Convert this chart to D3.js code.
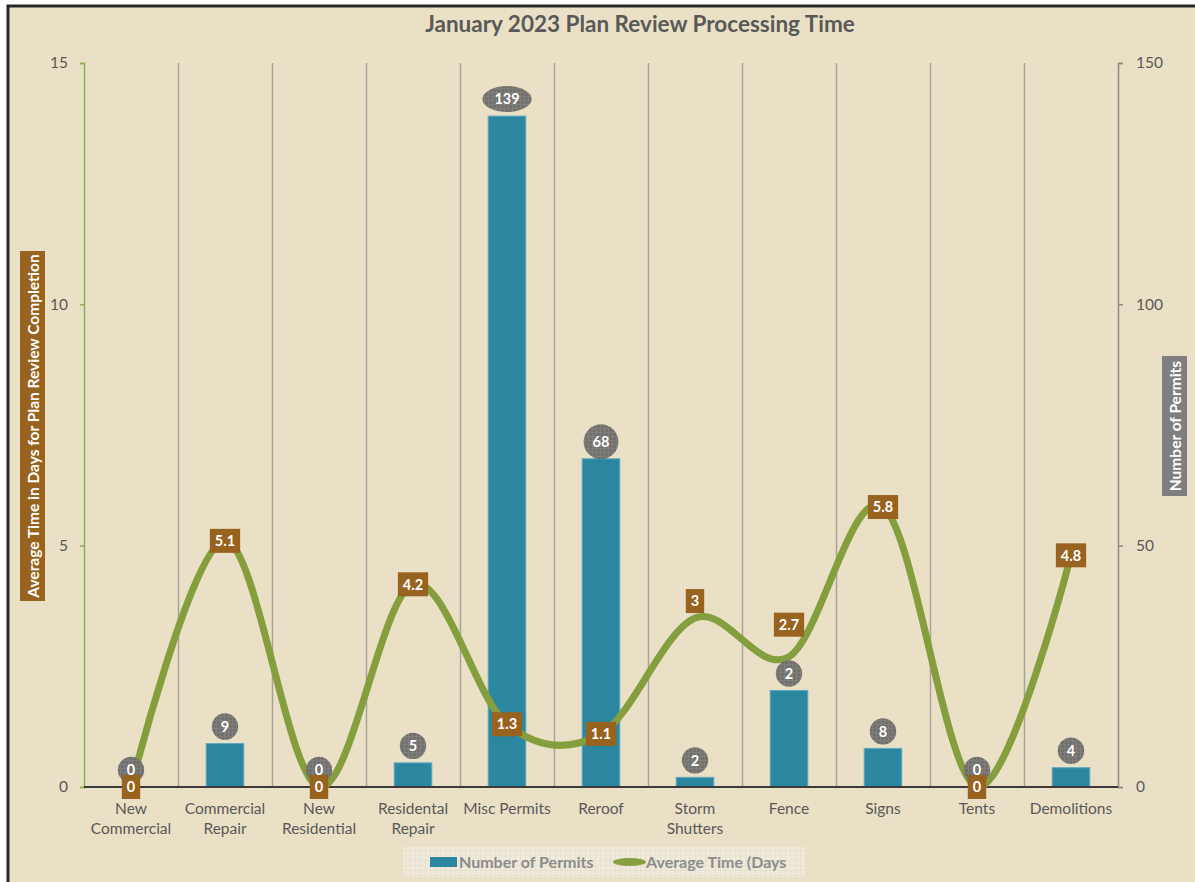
<!DOCTYPE html>
<html>
<head>
<meta charset="utf-8">
<script src="https://cdn.jsdelivr.net/npm/d3@7"></script>
<style>
  html, body { margin: 0; padding: 0; background: #ffffff; }
  svg { display: block; font-family: Lato, "Open Sans", "DejaVu Sans", sans-serif; }
</style>
</head>
<body>
<svg id="chart" width="1195" height="882"></svg>
<script>
// ---- Data ----
const categories = ["New\nCommercial", "Commercial\nRepair", "New\nResidential", "Residental\nRepair",
  "Misc Permits", "Reroof", "Storm\nShutters", "Fence", "Signs", "Tents", "Demolitions"];
const permits = [0, 9, 0, 5, 139, 68, 2, 20, 8, 0, 4];
const permitLabels = ["0", "9", "0", "5", "139", "68", "2", "2", "8", "0", "4"];
const avgDays = [0, 5.1, 0, 4.2, 1.3, 1.1, 3.5, 2.7, 5.8, 0, 4.8];
const avgDaysLabels = ["0", "5.1", "0", "4.2", "1.3", "1.1", "3", "2.7", "5.8", "0", "4.8"];
const leftTicks = [0, 5, 10, 15];
const rightTicks = [0, 50, 100, 150];
const titleText = "January 2023 Plan Review Processing Time";
const leftTitle = "Average Time in Days for Plan Review Completion";
const rightTitle = "Number of Permits";
const legendItems = ["Number of Permits", "Average Time (Days"];

// label vertical nudges (style only)
const avgLabelDy = [0, 0, 0, 0, 0, 0, -17, -32, 0, 0, 0];

// ---- Layout ----
const W = 1195, H = 882;
const plot = { left: 84, right: 1118, top: 63, bottom: 787 };
const bg = "#EAE0C5";
const textGray = "#595959";
const barColor = "#2B87A0";
const lineColor = "#86A03F";
const brown = "#98621F";

const svg = d3.select("#chart");
const defs = svg.append("defs");

// patterns
const pCircle = defs.append("pattern").attr("id", "pCircle").attr("width", 4).attr("height", 4)
  .attr("patternUnits", "userSpaceOnUse");
pCircle.append("rect").attr("width", 4).attr("height", 4).attr("fill", "#6C6B69");
pCircle.append("rect").attr("width", 1).attr("height", 4).attr("fill", "#7A7976");
pCircle.append("rect").attr("width", 4).attr("height", 1).attr("fill", "#7A7976");

const pLegend = defs.append("pattern").attr("id", "pLegend").attr("width", 5).attr("height", 5)
  .attr("patternUnits", "userSpaceOnUse");
pLegend.append("rect").attr("width", 5).attr("height", 5).attr("fill", "#EFEADB");
pLegend.append("rect").attr("width", 1).attr("height", 5).attr("fill", "#E6E0CD");
pLegend.append("rect").attr("width", 5).attr("height", 1).attr("fill", "#E6E0CD");

// background
svg.append("rect").attr("x", 0).attr("y", 0).attr("width", W).attr("height", H).attr("fill", "#ffffff");
svg.append("rect").attr("x", 8).attr("y", 6).attr("width", W + 20).attr("height", H + 20)
  .attr("fill", bg).attr("stroke", "#262626").attr("stroke-width", 3);

// scales
const x = d3.scaleBand().domain(categories).range([plot.left, plot.right]).padding(0);
const yL = d3.scaleLinear().domain([0, 15]).range([plot.bottom, plot.top]);
const yR = d3.scaleLinear().domain([0, 150]).range([plot.bottom, plot.top]);
const bw = x.bandwidth();
const cx = c => x(c) + bw / 2;

// vertical gridlines at category boundaries
svg.append("g").selectAll("line").data(categories.slice(1)).join("line")
  .attr("x1", d => Math.round(x(d)) + 0.5).attr("x2", d => Math.round(x(d)) + 0.5)
  .attr("y1", plot.top).attr("y2", plot.bottom)
  .attr("stroke", "#A7A39A").attr("stroke-width", 1.5);

// left axis
const gL = svg.append("g").attr("transform", `translate(${plot.left},0)`)
  .call(d3.axisLeft(yL).tickValues(leftTicks).tickSize(4).tickPadding(12).tickFormat(d3.format("d")));
gL.select(".domain").attr("stroke", "#8FAD55").attr("stroke-width", 1.5);
gL.selectAll(".tick line").attr("stroke", "#8FAD55").attr("stroke-width", 1.5);
gL.selectAll(".tick text").attr("fill", textGray).attr("font-size", 15.5).attr("font-family", "Lato, sans-serif");

// right axis
const gR = svg.append("g").attr("transform", `translate(${plot.right},0)`)
  .call(d3.axisRight(yR).tickValues(rightTicks).tickSize(5).tickPadding(13).tickFormat(d3.format("d")));
gR.select(".domain").attr("stroke", "#8C8A85").attr("stroke-width", 1.5);
gR.selectAll(".tick line").attr("stroke", "#8C8A85").attr("stroke-width", 1.5);
gR.selectAll(".tick text").attr("fill", textGray).attr("font-size", 15.5).attr("font-family", "Lato, sans-serif");

// bars
svg.append("g").selectAll("rect").data(categories).join("rect")
  .attr("x", (c) => cx(c) - bw * 0.2)
  .attr("width", bw * 0.4)
  .attr("y", (c, i) => yR(permits[i]))
  .attr("height", (c, i) => plot.bottom - yR(permits[i]))
  .attr("fill", barColor)
  .attr("stroke", "#5FAAC0").attr("stroke-width", (c, i) => permits[i] > 0 ? 1 : 0);

// bottom axis line
svg.append("line").attr("x1", plot.left).attr("x2", plot.right)
  .attr("y1", plot.bottom).attr("y2", plot.bottom)
  .attr("stroke", "#3A3A3A").attr("stroke-width", 2);

// category labels
const catG = svg.append("g");
categories.forEach(c => {
  const t = catG.append("text").attr("x", cx(c)).attr("y", 814)
    .attr("text-anchor", "middle").attr("fill", textGray).attr("font-size", 15.5);
  c.split("\n").forEach((line, j) => {
    t.append("tspan").attr("x", cx(c)).attr("dy", j === 0 ? 0 : 20).text(line);
  });
});

// smoothed line
const line = d3.line()
  .x((d, i) => cx(categories[i]))
  .y(d => yL(d))
  .curve(d3.curveCardinal.tension(0));
svg.append("path").datum(avgDays).attr("d", line)
  .attr("fill", "none").attr("stroke", lineColor).attr("stroke-width", 7)
  .attr("stroke-linecap", "round");
svg.append("path").datum(avgDays).attr("d", line)
  .attr("fill", "none").attr("stroke", "#7C9638").attr("stroke-width", 7)
  .attr("stroke-dasharray", "1 2").attr("opacity", 0.35);

// permit labels (gray circles)
const pl = svg.append("g");
categories.forEach((c, i) => {
  const label = permitLabels[i];
  const cy = yR(permits[i]) - 17;
  const tmp = pl.append("text").attr("font-size", 14.5).attr("font-weight", 700).text(label);
  const w = tmp.node().getComputedTextLength();
  tmp.remove();
  let rx, ry;
  if (label.length <= 2) { rx = ry = Math.max(13, w / 2 + 9); } else { rx = w / 2 + 12; ry = 13; }
  pl.append("ellipse").attr("cx", cx(c)).attr("cy", cy).attr("rx", rx).attr("ry", ry)
    .attr("fill", "url(#pCircle)").attr("opacity", 0.95);
  pl.append("text").attr("x", cx(c)).attr("y", cy).attr("dy", "0.36em")
    .attr("text-anchor", "middle").attr("fill", "#ffffff")
    .attr("font-size", 14.5).attr("font-weight", 700).text(label);
});

// average time labels (brown boxes)
const al = svg.append("g");
categories.forEach((c, i) => {
  const label = avgDaysLabels[i];
  const cy = yL(avgDays[i]) + avgLabelDy[i];
  const t = al.append("text").attr("x", cx(c)).attr("y", cy).attr("dy", "0.36em")
    .attr("text-anchor", "middle").attr("fill", "#ffffff")
    .attr("font-size", 14.5).attr("font-weight", 700).text(label);
  const w = t.node().getComputedTextLength();
  al.insert("rect", "text").attr("x", cx(c) - w / 2 - 5).attr("y", cy - 12)
    .attr("width", w + 10).attr("height", 24).attr("fill", brown);
});
al.selectAll("text").raise();

// title
svg.append("text").attr("x", 640).attr("y", 32).attr("text-anchor", "middle")
  .attr("fill", textGray).attr("font-size", 22.5).attr("font-weight", 700).text(titleText);

// left axis title
svg.append("rect").attr("x", 20).attr("y", 251).attr("width", 25).attr("height", 350).attr("fill", brown);
svg.append("text").attr("transform", "translate(33,426) rotate(-90)")
  .attr("text-anchor", "middle").attr("dy", "0.36em").attr("fill", "#ffffff")
  .attr("font-size", 15.5).attr("font-weight", 700).text(leftTitle);

// right axis title
svg.append("rect").attr("x", 1162).attr("y", 356).attr("width", 25).attr("height", 140).attr("fill", "#7F7F7F");
svg.append("text").attr("transform", "translate(1175,426) rotate(-90)")
  .attr("text-anchor", "middle").attr("dy", "0.36em").attr("fill", "#ffffff")
  .attr("font-size", 15.5).attr("font-weight", 700).text(rightTitle);

// legend
const lg = svg.append("g");
lg.append("rect").attr("x", 403).attr("y", 847).attr("width", 402).attr("height", 30).attr("fill", "url(#pLegend)");
lg.append("rect").attr("x", 430).attr("y", 857).attr("width", 27).attr("height", 10).attr("fill", barColor);
lg.append("text").attr("x", 459).attr("y", 862).attr("dy", "0.36em").attr("fill", "#8C8C8C")
  .attr("font-size", 16).attr("font-weight", 700).text(legendItems[0]);
lg.append("ellipse").attr("cx", 629.5).attr("cy", 862).attr("rx", 16.5).attr("ry", 4).attr("fill", lineColor);
lg.append("text").attr("x", 646).attr("y", 862).attr("dy", "0.36em").attr("fill", "#8C8C8C")
  .attr("font-size", 16).attr("font-weight", 700).text(legendItems[1]);
</script>
</body>
</html>
